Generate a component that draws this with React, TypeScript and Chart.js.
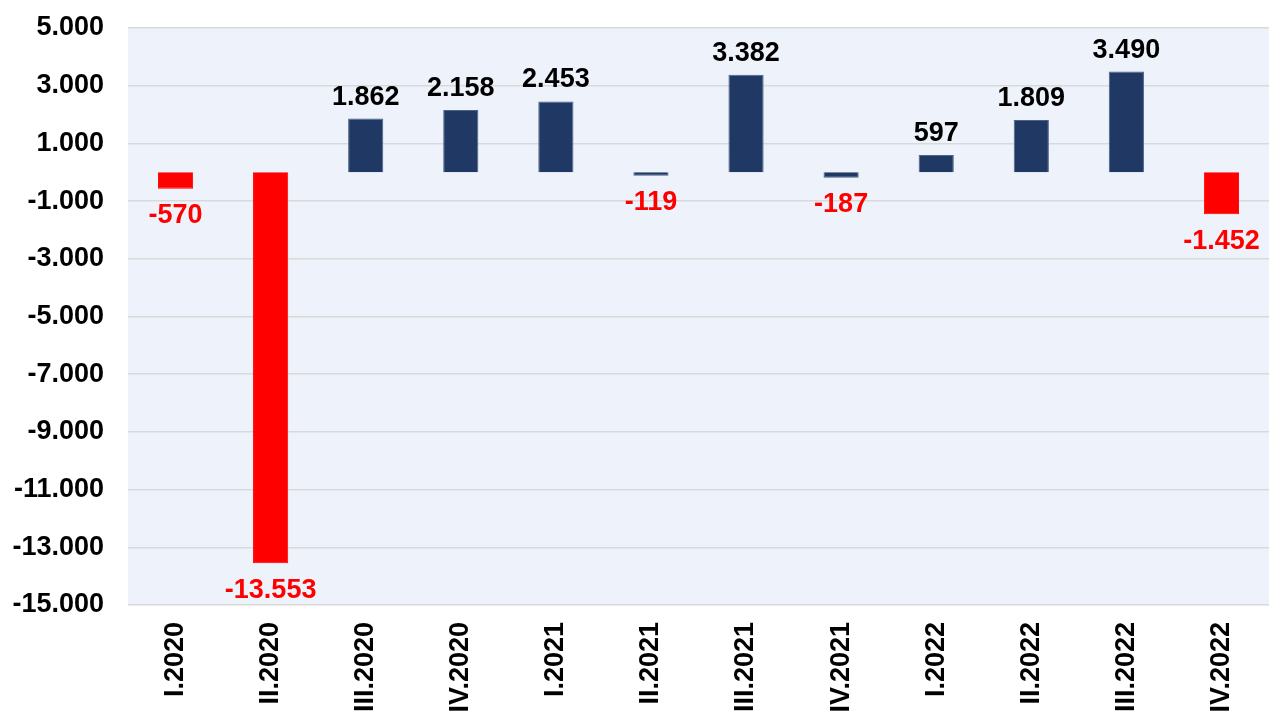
import React, { useEffect, useRef } from "react";
import { Chart, registerables } from "chart.js";

Chart.register(...registerables);

const categories = ["I.2020", "II.2020", "III.2020", "IV.2020", "I.2021", "II.2021", "III.2021", "IV.2021", "I.2022", "II.2022", "III.2022", "IV.2022"];
const values = [-570, -13553, 1862, 2158, 2453, -119, 3382, -187, 597, 1809, 3490, -1452];
const highlighted = [true, true, false, false, false, false, false, false, false, false, false, true];
const yTicks = [5000, 3000, 1000, -1000, -3000, -5000, -7000, -9000, -11000, -13000, -15000];

const NAVY = "#203864";
const RED = "#FF0000";
const FONT = "'Liberation Sans', Arial, sans-serif";

const fmt = (v: number) => {
  const s = Math.abs(v).toString().replace(/\B(?=(\d{3})+(?!\d))/g, ".");
  return (v < 0 ? "-" : "") + s;
};

const bgPlugin = {
  id: "plotBg",
  beforeDraw(chart: any) {
    const { ctx, chartArea } = chart;
    ctx.save();
    ctx.fillStyle = "#EEF2FA";
    ctx.fillRect(chartArea.left, chartArea.top, chartArea.right - chartArea.left, chartArea.bottom - chartArea.top);
    ctx.restore();
  },
};

const labelPlugin = {
  id: "valueLabels",
  afterDatasetsDraw(chart: any) {
    const { ctx } = chart;
    const meta = chart.getDatasetMeta(0);
    ctx.save();
    ctx.font = `bold 27px ${FONT}`;
    ctx.textAlign = "center";
    ctx.textBaseline = "alphabetic";
    meta.data.forEach((bar: any, i: number) => {
      const v = values[i];
      if (v >= 0) {
        ctx.fillStyle = "#000000";
        ctx.fillText(fmt(v), bar.x, bar.y - 14);
      } else {
        ctx.fillStyle = RED;
        ctx.fillText(fmt(v), bar.x, bar.y + 15 + 19.5);
      }
    });
    ctx.restore();
  },
};

export default function App() {
  const ref = useRef<HTMLCanvasElement | null>(null);

  useEffect(() => {
    document.body.style.margin = "0";
    const canvas = ref.current!;
    const chart = new Chart(canvas, {
      type: "bar",
      data: {
        labels: categories,
        datasets: [
          {
            data: values,
            backgroundColor: highlighted.map((h) => (h ? RED : NAVY)),
            borderColor: highlighted.map((h) => (h ? RED : "#4A6288")),
            borderWidth: 1,
            barPercentage: 0.37,
            categoryPercentage: 1,
          },
        ],
      },
      options: {
        responsive: false,
        animation: false,
        maintainAspectRatio: false,
        layout: { padding: { top: 28, left: 0, right: 0, bottom: 0 } },
        plugins: { legend: { display: false }, tooltip: { enabled: false } },
        scales: {
          x: {
            grid: { display: false, drawTicks: false },
            border: { display: false },
            afterFit(axis: any) {
              axis.height = 110;
              axis.paddingLeft = 0;
              axis.paddingRight = 0;
            },
            ticks: {
              color: "#000",
              font: { family: FONT, size: 27, weight: "bold" },
              minRotation: 90,
              maxRotation: 90,
              padding: 17,
              autoSkip: false,
            },
          },
          y: {
            min: -15000,
            max: 5000,
            afterBuildTicks(axis: any) {
              axis.ticks = yTicks.map((v) => ({ value: v }));
            },
            afterFit(axis: any) {
              axis.width = 128;
              axis.paddingTop = 0;
              axis.paddingBottom = 0;
            },
            grid: { color: "#D9D9D9", lineWidth: 1.5, drawTicks: false },
            border: { display: false },
            ticks: {
              color: "#000",
              font: { family: FONT, size: 27, weight: "bold" },
              padding: 24,
              callback: (v: any) => fmt(Number(v)),
            },
          },
        },
      },
      plugins: [bgPlugin, labelPlugin],
    });
    return () => chart.destroy();
  }, []);

  return <canvas ref={ref} width={1269} height={715} style={{ display: "block" }} />;
}
